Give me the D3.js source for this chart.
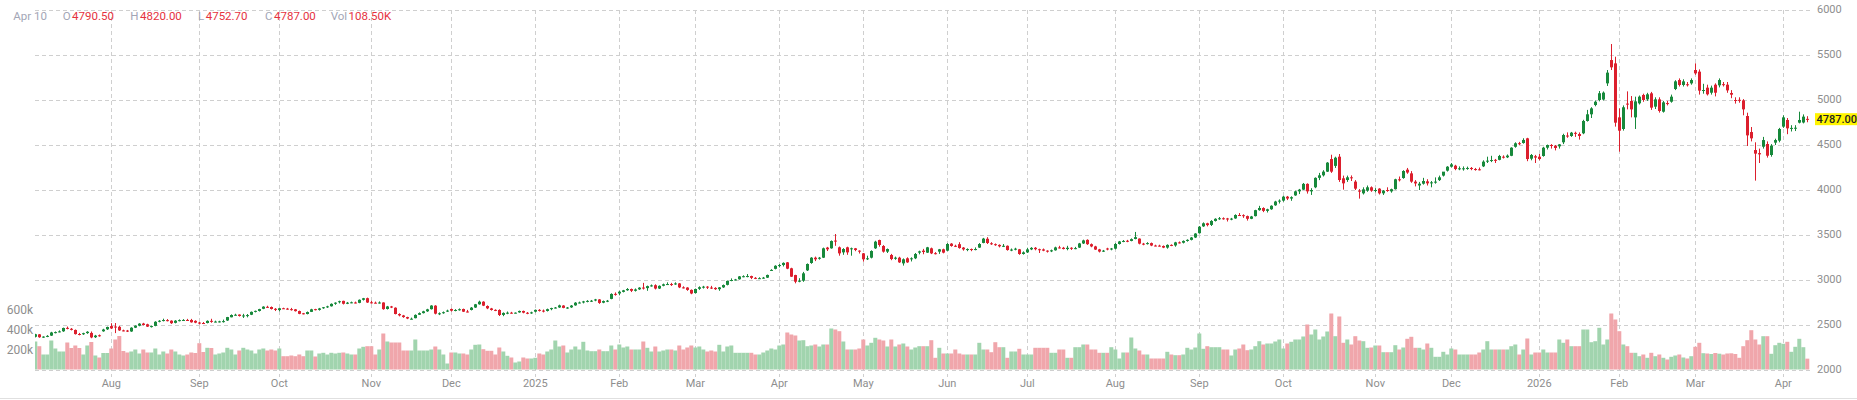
<!DOCTYPE html>
<html lang="en">
<head>
<meta charset="utf-8">
<title>Daily candles</title>
<script src="https://d3js.org/d3.v7.min.js"></script>
<style>
  body { margin: 0; background: #fff; }
  svg { display: block; font-family: Roboto, "Noto Sans", sans-serif; }
</style>
</head>
<body>
<script>
// month labels on the time axis and trading days in each month (first month is partial)
const months = ["Jul","Aug","Sep","Oct","Nov","Dec","2025","Feb","Mar","Apr","May","Jun",
                "Jul","Aug","Sep","Oct","Nov","Dec","2026","Feb","Mar","Apr"];
const monthDays = [19,22,20,23,20,21,21,19,21,21,21,20,22,21,21,23,19,22,20,19,22,7];
const lastDate = "Apr 10";

const priceTicks = [2000,2500,3000,3500,4000,4500,5000,5500,6000];
const volTicks = [200,400,600]; // thousands

const opens = [
  2369,2396,2363,2371,2382,2418,2422,2430,2468,2458,2445,2400,2397,2410,2412,2364,2386,2430,2452,
  2488,2483,2480,2440,2438,2428,2470,2492,2516,2508,2482,2490,2536,2548,2554,2548,2524,2548,2553,2556,2556,2546,
  2527,2522,2522,2546,2536,2538,2540,2550,2586,2612,2616,2602,2605,2614,2648,2656,2680,2702,2700,2680,
  2666,2686,2682,2676,2674,2655,2630,2622,2646,2676,2668,2686,2698,2708,2736,2755,2768,2736,2750,2750,2746,2780,2798,
  2752,2748,2746,2750,2678,2706,2692,2622,2606,2588,2570,2576,2614,2632,2652,2676,2715,2622,2632,2650,
  2678,2660,2666,2678,2650,2667,2694,2730,2759,2711,2684,2668,2667,2612,2634,2637,2634,2640,2656,2636,2630,
  2648,2668,2660,2656,2676,2688,2695,2716,2692,2696,2718,2748,2750,2762,2768,2772,2784,2748,2766,2790,2846,
  2850,2868,2886,2900,2880,2896,2916,2910,2932,2942,2905,2936,2952,2955,2952,2962,2918,2916,2890,
  2855,2902,2920,2926,2916,2912,2898,2918,2946,2992,3000,3008,3040,3042,3044,3024,3018,3020,3026,3104,3124,
  3158,3166,3196,3130,3055,2990,2992,3107,3189,3248,3236,3248,3360,3352,3438,3363,3307,3363,3348,3352,3326,
  3296,3241,3248,3352,3444,3378,3315,3278,3236,3248,3185,3241,3230,3241,3304,3326,3304,3352,3298,3315,3341,
  3326,3404,3380,3398,3360,3340,3344,3340,3360,3412,3458,3408,3398,3390,3376,3380,3333,3338,3341,3289,
  3307,3340,3358,3342,3340,3326,3318,3330,3362,3358,3344,3358,3348,3360,3406,3446,3398,3373,3340,3316,3350,3340,
  3348,3400,3428,3436,3434,3456,3460,3404,3400,3410,3383,3382,3378,3360,3390,3384,3418,3414,3434,3446,3472,
  3520,3596,3630,3612,3656,3680,3686,3684,3672,3684,3722,3720,3710,3680,3710,3776,3800,3768,3786,3830,3874,
  3882,3926,3905,3940,3985,4004,4068,3985,4030,4135,4163,4204,4344,4268,4370,4130,4111,4141,4093,3993,3963,3993,4030,
  3993,4015,3963,4000,3985,4009,4119,4133,4226,4185,4093,4050,4070,4096,4074,4085,4110,4160,4215,
  4259,4270,4233,4238,4241,4245,4233,4230,4263,4315,4326,4335,4335,4370,4363,4380,4480,4520,4522,4574,4348,4375,
  4370,4378,4470,4500,4490,4485,4530,4605,4600,4635,4622,4630,4767,4841,4944,5000,5005,5185,5444,5407,
  4807,4678,4960,4989,4807,4963,5056,5007,5074,4926,5007,4870,4966,4981,5122,5222,5167,5175,5185,
  5333,5315,5100,5137,5081,5170,5163,5176,5170,5078,5000,5002,4996,4822,4644,4444,4410,4481,4511,4389,4526,4548,
  4704,4778,4685,4688,4748,4750,4790.5
];
const highs = [
  2402,2399,2375,2387,2424,2428,2440,2471,2483,2466,2450,2412,2414,2431,2428,2390,2394,2458,2482,
  2520,2522,2490,2448,2445,2475,2496,2520,2524,2514,2494,2542,2554,2570,2566,2552,2554,2562,2565,2568,2568,2552,
  2534,2533,2551,2569,2548,2547,2560,2590,2618,2625,2618,2624,2622,2650,2660,2680,2708,2714,2706,2688,
  2690,2692,2690,2690,2678,2660,2634,2650,2680,2680,2690,2700,2714,2740,2752,2770,2770,2756,2760,2760,2784,2801,2804,
  2768,2760,2762,2752,2712,2712,2696,2630,2612,2592,2582,2618,2640,2658,2680,2720,2720,2640,2650,2670,
  2684,2676,2684,2682,2668,2700,2734,2770,2764,2718,2690,2674,2674,2640,2650,2646,2640,2660,2660,2644,2648,
  2672,2676,2672,2682,2692,2700,2726,2720,2700,2722,2754,2760,2768,2776,2778,2790,2788,2772,2778,2852,2862,
  2880,2890,2910,2905,2906,2920,2968,2938,2950,2952,2940,2960,2974,2968,2974,2966,2930,2920,2895,
  2905,2930,2935,2932,2935,2920,2922,2950,2994,3018,3012,3044,3052,3066,3048,3032,3030,3034,3060,3120,3164,
  3178,3196,3200,3136,3058,3020,3090,3184,3254,3260,3256,3360,3368,3440,3511,3372,3354,3370,3360,3356,3330,
  3300,3270,3330,3436,3448,3388,3350,3290,3260,3258,3240,3252,3252,3300,3326,3346,3368,3360,3310,3345,3348,
  3410,3410,3392,3420,3366,3352,3350,3362,3410,3468,3476,3420,3406,3396,3400,3384,3350,3358,3345,3318,
  3358,3365,3366,3348,3350,3330,3338,3370,3380,3368,3380,3364,3368,3412,3448,3452,3406,3380,3346,3334,3358,3356,
  3410,3434,3444,3446,3462,3534,3462,3412,3420,3416,3392,3392,3384,3396,3396,3424,3428,3440,3452,3478,3520,
  3600,3640,3636,3665,3686,3700,3696,3690,3690,3730,3744,3730,3716,3712,3780,3824,3808,3792,3830,3880,3896,
  3935,3934,3930,3992,4012,4078,4074,4020,4140,4190,4220,4310,4392,4370,4400,4160,4160,4162,4110,4010,4030,4050,4040,
  4020,4020,4000,4030,4015,4125,4150,4220,4245,4210,4110,4090,4135,4120,4100,4140,4160,4200,4265,
  4300,4280,4262,4262,4260,4255,4245,4250,4330,4370,4380,4345,4390,4385,4395,4475,4530,4535,4575,4580,4400,4390,
  4400,4480,4505,4510,4500,4510,4625,4640,4645,4648,4640,4780,4890,4920,4995,5100,5095,5333,5622,5481,
  4907,4940,5096,5044,5037,5050,5070,5080,5090,5030,5030,4990,4990,5060,5220,5240,5230,5200,5240,
  5407,5340,5180,5170,5160,5185,5240,5200,5200,5110,5030,5030,5010,4859,4700,4530,4460,4590,4540,4510,4570,4690,
  4830,4800,4720,4720,4870,4840,4820
];
const lows = [
  2362,2358,2357,2365,2378,2407,2418,2424,2452,2440,2394,2385,2390,2402,2353,2356,2370,2425,2445,
  2455,2410,2435,2430,2422,2424,2466,2486,2496,2478,2472,2486,2530,2540,2540,2512,2518,2540,2545,2545,2526,2520,
  2506,2514,2518,2525,2530,2528,2527,2545,2585,2605,2594,2578,2585,2610,2640,2650,2676,2690,2672,2655,
  2652,2678,2670,2660,2650,2620,2618,2618,2644,2662,2660,2680,2690,2705,2724,2740,2728,2732,2742,2740,2742,2772,2745,
  2738,2740,2738,2670,2672,2688,2618,2596,2580,2565,2562,2574,2612,2628,2646,2672,2618,2610,2625,2645,
  2650,2652,2660,2644,2640,2662,2690,2726,2710,2676,2660,2654,2600,2598,2620,2626,2628,2636,2630,2620,2624,
  2640,2650,2640,2650,2664,2684,2690,2686,2680,2690,2714,2740,2740,2752,2756,2764,2735,2742,2754,2786,2826,
  2830,2862,2880,2866,2872,2890,2894,2880,2926,2895,2900,2930,2944,2934,2946,2910,2906,2880,2842,
  2850,2890,2905,2900,2900,2890,2880,2912,2940,2986,2996,3004,3030,3030,3010,3010,3012,3014,3022,3100,3118,
  3140,3150,3120,3034,2963,2975,2980,3100,3180,3210,3226,3244,3322,3348,3380,3270,3280,3280,3270,3320,3294,
  3204,3222,3240,3345,3370,3304,3300,3220,3225,3190,3160,3190,3206,3232,3285,3286,3300,3288,3284,3290,3296,
  3320,3370,3366,3348,3326,3320,3320,3330,3356,3408,3400,3390,3380,3362,3366,3326,3320,3330,3280,3282,
  3300,3332,3330,3300,3320,3305,3310,3326,3350,3340,3330,3334,3342,3356,3400,3390,3364,3334,3306,3312,3330,3330,
  3340,3394,3420,3420,3430,3452,3396,3386,3394,3376,3374,3372,3354,3348,3376,3370,3406,3406,3426,3440,3466,
  3515,3590,3596,3600,3650,3668,3670,3650,3664,3680,3712,3690,3660,3676,3706,3770,3754,3750,3780,3824,3850,
  3870,3888,3880,3935,3955,4000,3960,3945,4020,4110,4150,4200,4190,4245,4090,4004,4090,4100,4000,3904,3950,3980,3980,
  3975,3950,3945,3980,3970,4005,4095,4125,4180,4080,4040,4000,4060,4050,4030,4070,4100,4150,4205,
  4250,4220,4220,4215,4225,4220,4215,4218,4255,4300,4310,4300,4330,4350,4355,4376,4470,4500,4515,4320,4330,4300,
  4330,4370,4450,4460,4440,4460,4510,4580,4590,4590,4560,4620,4760,4800,4930,4985,4995,5156,5333,4704,
  4426,4660,4896,4807,4678,4950,4980,4990,4890,4900,4860,4860,4940,4970,5110,5150,5150,5150,5170,
  5280,5060,5070,5050,5060,5040,5140,5150,5080,5020,4960,4970,4830,4489,4540,4104,4300,4460,4360,4370,4500,4530,
  4690,4620,4650,4655,4740,4740,4752.7
];
const closes = [
  2397,2364,2371,2379,2417,2421,2429,2467,2459,2446,2399,2396,2409,2425,2362,2382,2379,2450,2478,
  2462,2478,2440,2437,2428,2470,2492,2515,2500,2482,2488,2536,2547,2555,2550,2520,2548,2554,2556,2552,2530,2526,
  2524,2520,2546,2538,2538,2540,2543,2588,2611,2614,2600,2606,2610,2646,2657,2677,2704,2700,2678,2668,
  2686,2684,2676,2674,2654,2624,2622,2644,2674,2668,2684,2697,2707,2735,2748,2764,2736,2748,2752,2746,2780,2797,2750,
  2748,2746,2750,2676,2706,2694,2622,2607,2588,2572,2570,2612,2632,2652,2674,2716,2626,2630,2642,2660,
  2659,2667,2675,2648,2648,2693,2730,2759,2715,2685,2667,2666,2611,2634,2637,2634,2637,2656,2637,2632,2640,
  2668,2660,2654,2676,2688,2694,2718,2690,2694,2716,2748,2750,2762,2768,2770,2784,2745,2766,2770,2845,2840,
  2870,2885,2900,2880,2895,2915,2910,2932,2940,2905,2935,2952,2955,2952,2962,2918,2915,2890,2850,
  2900,2920,2926,2916,2912,2898,2918,2944,2990,3000,3006,3040,3042,3044,3024,3018,3020,3026,3056,3112,3158,
  3166,3190,3126,3037,2981,2992,3074,3178,3248,3230,3248,3352,3341,3433,3430,3296,3344,3307,3352,3333,3322,
  3230,3241,3322,3426,3389,3315,3344,3233,3248,3196,3230,3196,3241,3289,3318,3311,3363,3296,3296,3341,3304,
  3400,3378,3378,3355,3340,3344,3340,3344,3400,3460,3411,3398,3392,3374,3380,3333,3338,3348,3289,3307,
  3340,3357,3342,3338,3326,3318,3330,3362,3358,3344,3358,3348,3354,3406,3440,3398,3373,3338,3316,3326,3346,3350,
  3400,3428,3434,3434,3454,3476,3404,3400,3410,3383,3382,3378,3360,3390,3382,3418,3414,3434,3446,3472,3516,
  3592,3630,3610,3656,3680,3686,3684,3672,3682,3722,3720,3710,3680,3706,3776,3800,3768,3786,3825,3872,3882,
  3926,3905,3920,3985,4004,4068,3985,4000,4135,4163,4204,4304,4204,4359,4111,4074,4141,4137,4015,3985,4007,4030,3993,
  4000,3963,3993,3998,4009,4119,4116,4211,4194,4093,4073,4070,4100,4074,4085,4093,4141,4204,4259,
  4285,4233,4241,4241,4245,4233,4230,4228,4315,4326,4333,4333,4378,4363,4382,4470,4519,4515,4556,4344,4389,4360,
  4344,4470,4500,4490,4467,4507,4611,4600,4637,4630,4600,4767,4841,4907,4981,5075,5082,5304,5363,4748,
  4659,4919,4956,4896,4985,5037,5000,5063,4915,5007,4878,4974,4963,5037,5207,5167,5207,5170,5222,
  5296,5104,5111,5063,5137,5081,5222,5170,5107,5059,4996,4996,4896,4607,4574,4404,4396,4555,4381,4493,4555,4678,
  4807,4685,4690,4692,4778,4815,4787
];
// volume in thousands of contracts
const volumes = [
  280,233,150,150,290,210,180,180,270,215,240,215,150,240,275,140,120,165,165,
  210,300,335,185,170,180,200,160,200,170,170,210,150,180,160,200,180,150,140,150,170,165,
  263,175,217,215,150,160,170,217,200,150,190,217,200,190,160,200,210,190,200,190,
  210,133,133,140,133,150,133,190,190,130,160,167,150,167,160,167,170,160,150,150,210,227,233,
  233,150,200,360,280,270,270,270,190,190,190,300,190,190,190,200,230,200,150,60,
  170,170,160,160,150,200,247,250,203,187,187,150,220,180,137,120,70,80,120,110,110,
  117,160,150,180,200,290,230,240,170,200,230,200,277,190,183,183,200,183,183,240,200,
  250,220,230,200,200,200,280,217,180,230,180,190,200,200,190,240,200,220,240,
  220,230,200,180,190,180,247,180,230,240,167,167,167,167,167,150,150,170,190,210,200,
  240,250,370,350,340,290,293,233,240,250,230,250,250,410,400,383,280,200,200,200,210,
  300,240,267,317,300,290,230,300,230,250,260,230,200,220,233,233,233,293,117,217,160,
  160,160,200,160,150,150,150,150,267,200,200,173,273,223,223,117,180,180,207,150,
  150,150,217,217,217,217,167,167,200,200,117,117,223,223,250,250,200,200,167,167,167,223,
  200,110,170,170,320,210,190,150,150,110,110,110,110,177,150,143,143,150,217,200,220,
  360,207,233,223,223,223,200,200,140,200,210,250,193,200,233,283,250,260,260,280,300,
  210,260,277,300,300,330,450,350,400,300,330,380,560,333,530,267,300,250,333,290,283,217,220,
  240,240,173,173,173,243,200,220,307,327,217,217,200,260,217,127,127,177,150,
  210,200,150,150,150,150,150,170,200,283,200,200,200,200,200,233,250,150,200,310,150,170,
  170,200,170,170,170,300,267,300,233,233,233,400,400,273,283,417,250,300,560,500,
  383,250,233,167,167,133,150,117,167,133,150,117,100,127,140,150,120,110,133,
  227,267,163,160,155,165,158,150,160,162,155,117,233,293,393,300,250,333,333,157,243,267,
  257,277,177,227,307,223,108.5
];

const W = 1857, H = 400;
const upColor = "#17893b", downColor = "#dc1f2d";
const upVol = "#a1d4ae", downVol = "#f0a6ab";
const gridColor = "#cfcfcf", axisText = "#8e8e8e";

const n = closes.length;
const idx = d3.range(n);
const isUp = i => closes[i] >= opens[i];

const svg = d3.select("body").append("svg")
  .attr("width", W).attr("height", H);

const x = d3.scaleBand().domain(idx).range([33.3, 1809.3]).padding(0);
const y = d3.scaleLinear().domain([2000, 6000]).range([370, 10]);
const yVol = d3.scaleLinear().domain([0, 600]).range([369.5, 309.5]);
const cx = i => Math.round(x(i) + x.bandwidth() / 2) + 0.5;

// month start positions
const starts = [];
let acc = 0;
monthDays.forEach((c, k) => { if (acc > 0) starts.push({ i: acc, label: months[k] }); acc += c; });

svg.append("defs").append("clipPath").attr("id", "plot")
  .append("rect").attr("x", 35).attr("y", 0).attr("width", 1776).attr("height", 372);

// grid
const grid = svg.append("g")
  .attr("stroke", gridColor).attr("stroke-dasharray", "4,3").attr("stroke-width", 1);
grid.selectAll("line.h").data(priceTicks).join("line").attr("class", "h")
  .attr("x1", 35).attr("x2", 1811)
  .attr("y1", d => Math.round(y(d)) + 0.5).attr("y2", d => Math.round(y(d)) + 0.5);
grid.selectAll("line.v").data(starts).join("line").attr("class", "v")
  .attr("x1", d => cx(d.i)).attr("x2", d => cx(d.i))
  .attr("y1", y(6000)).attr("y2", 377);

const plot = svg.append("g").attr("clip-path", "url(#plot)");

// volume
plot.append("g").selectAll("rect").data(idx).join("rect")
  .attr("x", i => x(i))
  .attr("width", x.bandwidth())
  .attr("y", i => yVol(volumes[i]))
  .attr("height", i => yVol(0) - yVol(volumes[i]))
  .attr("fill", i => isUp(i) ? upVol : downVol);

// candles
const candles = plot.append("g");
candles.selectAll("line").data(idx).join("line")
  .attr("x1", cx).attr("x2", cx)
  .attr("y1", i => y(highs[i])).attr("y2", i => y(lows[i]))
  .attr("stroke", i => isUp(i) ? upColor : downColor)
  .attr("stroke-width", 1);
candles.selectAll("rect").data(idx).join("rect")
  .attr("x", i => cx(i) - 1.5)
  .attr("width", 3)
  .attr("y", i => y(Math.max(opens[i], closes[i])))
  .attr("height", i => Math.max(1, Math.abs(y(opens[i]) - y(closes[i]))))
  .attr("fill", i => isUp(i) ? upColor : downColor);

// right price axis
const yAxis = svg.append("g").attr("transform", "translate(1817,0)")
  .call(d3.axisRight(y).tickValues(priceTicks).tickSize(0).tickPadding(0).tickFormat(d3.format("d")));
yAxis.select(".domain").remove();
yAxis.selectAll("text").attr("fill", axisText).attr("font-size", 11).attr("dy", "0.2em")
  .attr("font-family", "Roboto, sans-serif");

// left volume axis
const vAxis = svg.append("g").attr("transform", "translate(33,0)")
  .call(d3.axisLeft(yVol).tickValues(volTicks).tickSize(0).tickPadding(0).tickFormat(d => d + "k"));
vAxis.select(".domain").remove();
vAxis.selectAll("text").attr("fill", axisText).attr("font-size", 12)
  .attr("font-family", "Roboto, sans-serif");

// bottom time axis
const labelOf = new Map(starts.map(s => [s.i, s.label]));
const xAxis = svg.append("g").attr("transform", "translate(0,372)")
  .call(d3.axisBottom(x).tickValues(starts.map(s => s.i)).tickSize(0).tickPadding(7)
    .tickFormat(i => labelOf.get(i)));
xAxis.select(".domain").remove();
xAxis.selectAll("text").attr("fill", axisText).attr("font-size", 11)
  .attr("font-family", "Roboto, sans-serif");

// bottom border
svg.append("line").attr("x1", 0).attr("x2", W).attr("y1", 398.5).attr("y2", 398.5)
  .attr("stroke", "#e0e0e0");

// last price tag
const last = n - 1;
const tagY = y(closes[last]);
svg.append("rect").attr("x", 1815).attr("y", tagY - 6).attr("width", 42).attr("height", 12)
  .attr("fill", "#fff500");
svg.append("text").attr("x", 1816.5).attr("y", tagY).attr("dy", "0.35em")
  .attr("font-size", 11).attr("font-weight", 500).attr("fill", "#222")
  .text(closes[last].toFixed(2));

// header with last candle values
const valColor = isUp(last) ? upColor : "#e5323e";
const fields = [
  ["O", opens[last].toFixed(2)],
  ["H", highs[last].toFixed(2)],
  ["L", lows[last].toFixed(2)],
  ["C", closes[last].toFixed(2)],
  ["Vol", volumes[last].toFixed(2) + "K"]
];
const header = svg.append("g").attr("font-size", 11.5);
const groupX = [62.7, 130.3, 198, 265, 330.7];
header.append("text").attr("x", 13.3).attr("y", 20).attr("fill", "#a3a6b6").text(lastDate);
fields.forEach(([k, v], j) => {
  const t = header.append("text").attr("x", groupX[j]).attr("y", 20);
  t.append("tspan").attr("fill", "#a3a6b6").text(k);
  t.append("tspan").attr("dx", 1.5).attr("fill", valColor).text(v);
});
</script>
</body>
</html>
